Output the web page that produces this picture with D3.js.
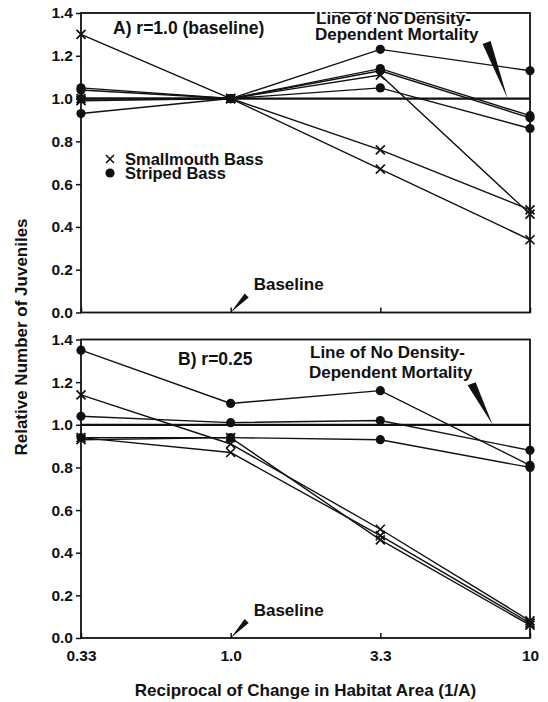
<!DOCTYPE html>
<html>
<head>
<meta charset="utf-8">
<script src="https://cdn.jsdelivr.net/npm/d3@7"></script>
<style>
  body { margin: 0; background: #fff; }
  svg { display: block; }
  text { font-family: "Liberation Sans", Arial, sans-serif; font-weight: bold; fill: #111; }
</style>
</head>
<body>
<div id="chart"></div>
<script>
const width = 548
const height = 702

// x categories (reciprocal of change in habitat area)
const xLabels = ["0.33", "1.0", "3.3", "10"]
const yTicks = [0, 0.2, 0.4, 0.6, 0.8, 1.0, 1.2, 1.4]

// panel A, r = 1.0 (baseline)
const smallmouthA = [
  [1.30, 1.0, 0.67, 0.34],
  [1.00, 1.0, 0.76, 0.48],
  [0.99, 1.0, 1.11, 0.46]
]
const stripedA = [
  [1.05, 1.0, 1.23, 1.13],
  [1.04, 1.0, 1.14, 0.92],
  [1.00, 1.0, 1.13, 0.91],
  [0.93, 1.0, 1.05, 0.86]
]

// panel B, r = 0.25
const smallmouthB = [
  [1.14, 0.91, 0.51, 0.08],
  [0.94, 0.87, 0.48, 0.07],
  [0.93, 0.94, 0.46, 0.06]
]
const stripedB = [
  [1.35, 1.10, 1.16, 0.81],
  [1.04, 1.01, 1.02, 0.88],
  [0.94, 0.94, 0.93, 0.80]
]

const left = 81, right = 530

const x = d3.scalePoint()
  .domain(xLabels)
  .range([left, right])

const svg = d3.select("#chart").append("svg")
  .attr("width", width)
  .attr("height", height)

function drawPanel(top, bottom, smallmouth, striped, opts) {
  const y = d3.scaleLinear().domain([0, 1.4]).range([bottom, top])
  const g = svg.append("g")

  const line = d3.line()
    .x((d, i) => x(xLabels[i]))
    .y(d => y(d))

  // series lines
  g.selectAll("path.sm")
    .data(smallmouth)
    .join("path")
    .attr("class", "sm")
    .attr("d", line)
    .attr("fill", "none")
    .attr("stroke", "#111")
    .attr("stroke-width", 1.4)

  g.selectAll("path.st")
    .data(striped)
    .join("path")
    .attr("class", "st")
    .attr("d", line)
    .attr("fill", "none")
    .attr("stroke", "#111")
    .attr("stroke-width", 1.4)

  // line of no density-dependent mortality
  g.append("line")
    .attr("x1", left).attr("x2", right)
    .attr("y1", y(1)).attr("y2", y(1))
    .attr("stroke", "#111")
    .attr("stroke-width", 2.2)

  // striped bass dots
  g.selectAll("circle")
    .data(striped.flatMap(s => s.map((v, i) => [i, v])))
    .join("circle")
    .attr("cx", d => x(xLabels[d[0]]))
    .attr("cy", d => y(d[1]))
    .attr("r", 4.6)
    .attr("fill", "#111")

  // smallmouth crosses
  const s = 4.5
  g.selectAll("path.cross")
    .data(smallmouth.flatMap(r => r.map((v, i) => [i, v])))
    .join("path")
    .attr("class", "cross")
    .attr("transform", d => `translate(${x(xLabels[d[0]])},${y(d[1])})`)
    .attr("d", `M${-s},${-s}L${s},${s}M${-s},${s}L${s},${-s}`)
    .attr("stroke", "#111")
    .attr("stroke-width", 1.7)

  // frame
  g.append("rect")
    .attr("x", left).attr("y", top)
    .attr("width", right - left).attr("height", bottom - top)
    .attr("fill", "none")
    .attr("stroke", "#111")
    .attr("stroke-width", 1.8)

  // y axis
  const ya = g.append("g")
    .attr("transform", `translate(${left},0)`)
    .call(d3.axisLeft(y).tickValues(yTicks).tickFormat(d3.format(".1f")).tickSize(5).tickPadding(3))
  ya.select(".domain").remove()
  ya.selectAll("line").attr("stroke", "#111").attr("stroke-width", 1.5)
  ya.selectAll("text").attr("font-size", 15.5).attr("fill", "#111")
    .attr("font-family", "Liberation Sans, Arial, sans-serif")

  // x axis (inward ticks)
  const xa = g.append("g")
    .attr("transform", `translate(0,${bottom})`)
    .call(d3.axisBottom(x).tickSizeInner(-5).tickSizeOuter(0).tickPadding(12)
      .tickFormat(opts.xLabels ? d => d : ""))
  xa.select(".domain").remove()
  xa.selectAll("line").attr("stroke", "#111").attr("stroke-width", 1.5)
  xa.selectAll("text").attr("font-size", 15.5).attr("fill", "#111")
    .attr("font-family", "Liberation Sans, Arial, sans-serif")

  const halo = sel => sel
    .attr("stroke", "#fff").attr("stroke-width", 4)
    .attr("paint-order", "stroke").attr("stroke-linejoin", "round")

  // panel label
  g.append("text")
    .attr("x", opts.labelX).attr("y", y(opts.labelV))
    .attr("font-size", 17.5)
    .attr("dominant-baseline", "central")
    .call(halo)
    .text(opts.label)

  // "Line of No Density-Dependent Mortality" annotation
  const ann = g.append("text")
    .attr("x", opts.annX).attr("y", y(opts.annV))
    .attr("font-size", 17)
    .call(halo)
  ann.append("tspan").attr("x", opts.annX).text("Line of No Density-")
  ann.append("tspan").attr("x", opts.annX - 1).attr("dy", opts.annDy).text("Dependent Mortality")

  const step = x.step()
  const tipX = x("3.3") + opts.tipT * step, tipY = y(1)
  const tailX = x("3.3") + opts.tailT * step, tailY = y(opts.tailV)
  g.append("path")
    .attr("d", `M${tailX - 4},${tailY + 1}L${tailX + 4},${tailY - 2}L${tipX},${tipY}Z`)
    .attr("fill", "#111")

  // Baseline annotation
  g.append("text")
    .attr("x", x("1.0") + 23).attr("y", bottom - 28)
    .attr("font-size", 17)
    .attr("dominant-baseline", "central")
    .text("Baseline")
  const bx = x("1.0"), by = bottom
  g.append("path")
    .attr("d", `M${bx + 14},${by - 19}L${bx + 18},${by - 15}L${bx},${by}Z`)
    .attr("fill", "#111")
}

drawPanel(13, 312.5, smallmouthA, stripedA, {
  label: "A) r=1.0 (baseline)", labelX: 113, labelV: 1.33,
  annX: 316, annV: 1.35, annDy: 16, tipT: 0.85, tailT: 0.71, tailV: 1.26,
  xLabels: false
})

drawPanel(339.5, 638, smallmouthB, stripedB, {
  label: "B) r=0.25", labelX: 178, labelV: 1.31,
  annX: 310, annV: 1.314, annDy: 20, tipT: 0.75, tailT: 0.61, tailV: 1.19,
  xLabels: true
})

// legend (panel A)
const legend = svg.append("g").attr("transform", "translate(110,159)")
legend.append("path")
  .attr("d", "M-4,-4L4,4M-4,4L4,-4")
  .attr("stroke", "#111").attr("stroke-width", 1.6)
legend.append("text").attr("x", 15).attr("y", 0)
  .attr("dominant-baseline", "central").attr("font-size", 16.5)
  .text("Smallmouth Bass")
legend.append("circle").attr("cx", 0).attr("cy", 14).attr("r", 4.6).attr("fill", "#111")
legend.append("text").attr("x", 15).attr("y", 14)
  .attr("dominant-baseline", "central").attr("font-size", 16.5)
  .text("Striped Bass")

// axis titles
svg.append("text")
  .attr("x", (left + right) / 2).attr("y", 690)
  .attr("text-anchor", "middle")
  .attr("dominant-baseline", "central")
  .attr("font-size", 17)
  .text("Reciprocal of Change in Habitat Area (1/A)")

svg.append("text")
  .attr("transform", "translate(21,337) rotate(-90)")
  .attr("text-anchor", "middle")
  .attr("dominant-baseline", "central")
  .attr("font-size", 17)
  .text("Relative Number of Juveniles")
</script>
</body>
</html>
